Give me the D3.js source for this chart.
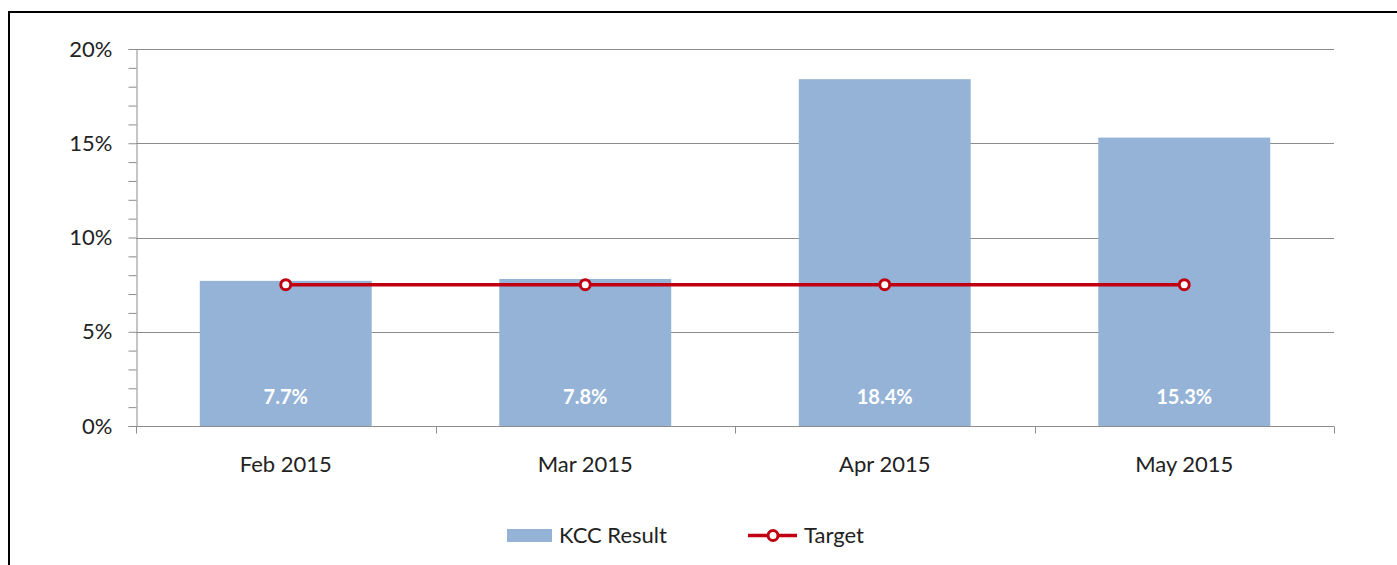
<!DOCTYPE html>
<html><head><meta charset="utf-8">
<script src="https://cdn.jsdelivr.net/npm/d3@7"></script>
<style>
html,body{margin:0;padding:0;background:#fff;}
svg{display:block;}
text{font-family:Lato, "Open Sans", sans-serif;}
</style></head>
<body>
<script>
const categories = ["Feb 2015","Mar 2015","Apr 2015","May 2015"];
const kccResult = [7.7, 7.8, 18.4, 15.3];
const target = [7.5, 7.5, 7.5, 7.5];
const yTicks = [0,5,10,15,20];
const seriesNames = ["KCC Result","Target"];

(function(){
const W=1397,H=565;
const svg=d3.select("body").append("svg").attr("width",W).attr("height",H);

// outer frame
svg.append("path").attr("d","M9,565 V12 H1397").attr("fill","none").attr("stroke","#000").attr("stroke-width",2);

const pLeft=136,pRight=1334,pTop=49,pBottom=426;
const x=d3.scaleBand().domain(categories).range([pLeft,pRight]).paddingInner(0.426).paddingOuter(0.213);
const y=d3.scaleLinear().domain([0,20]).range([pBottom,pTop]);
const red="#c00010";

// gridlines
svg.append("g").selectAll("line").data(yTicks.filter(d=>d>0)).join("line")
  .attr("x1",pLeft).attr("x2",pRight).attr("y1",d=>Math.round(y(d))+0.5).attr("y2",d=>Math.round(y(d))+0.5)
  .attr("stroke","#8c8c8c").attr("stroke-width",1);

// bars
svg.append("g").selectAll("rect").data(kccResult).join("rect")
  .attr("x",(d,i)=>x(categories[i])).attr("width",x.bandwidth())
  .attr("y",d=>y(d)).attr("height",d=>y(0)-y(d)).attr("fill","#95b3d7");

// bar labels
svg.append("g").selectAll("text").data(kccResult).join("text")
  .attr("x",(d,i)=>x(categories[i])+x.bandwidth()/2).attr("y",404)
  .attr("text-anchor","middle").attr("fill","#fff").attr("font-weight","bold").attr("font-size","20px")
  .text(d=>d.toFixed(1)+"%");

// y axis
const yAxis=d3.axisLeft(y).tickValues(d3.range(0,21,1)).tickSize(8).tickFormat(d=>d%5===0?d+"%":"");
const ya=svg.append("g").attr("transform",`translate(${pLeft+0.5},0)`).call(yAxis);
ya.select(".domain").attr("stroke","#8c8c8c");
ya.selectAll(".tick line").attr("stroke","#8c8c8c");
ya.selectAll(".tick text").attr("font-size","22px").attr("fill","#222").attr("x",-24).style("font-family","Lato, sans-serif");

// x axis
const xa=svg.append("g").attr("transform",`translate(0,${pBottom+0.5})`);
xa.append("line").attr("x1",pLeft).attr("x2",pRight).attr("stroke","#8c8c8c");
const bounds=[0,1,2,3,4].map(i=>pLeft+i*(pRight-pLeft)/4);
xa.selectAll("line.t").data(bounds).join("line").attr("class","t")
  .attr("x1",d=>Math.round(d)+0.5).attr("x2",d=>Math.round(d)+0.5).attr("y1",0).attr("y2",7).attr("stroke","#8c8c8c");
xa.selectAll("text").data(categories).join("text")
  .attr("x",d=>x(d)+x.bandwidth()/2).attr("y",45).attr("text-anchor","middle")
  .attr("font-size","22px").attr("fill","#222").text(d=>d);

// target line
const line=d3.line().x((d,i)=>x(categories[i])+x.bandwidth()/2).y(d=>y(d));
svg.append("path").datum(target).attr("d",line).attr("fill","none").attr("stroke",red).attr("stroke-width",3.5);
svg.append("g").selectAll("circle").data(target).join("circle")
  .attr("cx",(d,i)=>x(categories[i])+x.bandwidth()/2).attr("cy",d=>y(d)).attr("r",5)
  .attr("fill","#fff").attr("stroke",red).attr("stroke-width",3);

// legend
const lg=svg.append("g");
lg.append("rect").attr("x",507).attr("y",529).attr("width",45).attr("height",13).attr("fill","#95b3d7");
lg.append("text").attr("x",559).attr("y",543).attr("font-size","22px").attr("fill","#222").text(seriesNames[0]);
lg.append("line").attr("x1",748).attr("x2",797).attr("y1",535.5).attr("y2",535.5).attr("stroke",red).attr("stroke-width",3.5);
lg.append("circle").attr("cx",773).attr("cy",535.5).attr("r",5).attr("fill","#fff").attr("stroke",red).attr("stroke-width",3);
lg.append("text").attr("x",804).attr("y",543).attr("font-size","22px").attr("fill","#222").text(seriesNames[1]);
})();
</script>
</body></html>
